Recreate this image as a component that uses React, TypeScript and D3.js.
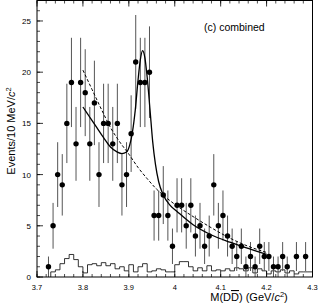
import React from "react";
import * as d3 from "d3";

// Data bin centres (GeV/c^2) and event counts
const binCenters = [
  3.725, 3.735, 3.745, 3.755, 3.765, 3.775, 3.785, 3.795, 3.805, 3.815,
  3.825, 3.835, 3.845, 3.855, 3.865, 3.875, 3.885, 3.895, 3.905, 3.915,
  3.925, 3.935, 3.945, 3.955, 3.965, 3.975, 3.985, 3.995, 4.005, 4.015,
  4.025, 4.035, 4.045, 4.055, 4.065, 4.075, 4.085, 4.095, 4.105, 4.115,
  4.125, 4.135, 4.145, 4.155, 4.165, 4.175, 4.185, 4.195, 4.205, 4.215,
  4.225, 4.235, 4.245, 4.265, 4.285,
];
const counts = [
  1, 5, 10, 9, 15, 19, 13, 19, 18, 13,
  17, 10, 15, 15, 13, 15, 9, 10, 14, 21,
  19, 19, 20, 6, 6, 8, 6, 3, 7, 7,
  5, 7, 4, 5, 3, 4, 9, 5, 6, 4,
  3, 2, 3, 1, 2, 1, 3, 2, 2, 1,
  1, 2, 1, 2, 2,
];

// Background histogram (lower bin edges, 10 MeV bins)
const histEdges = [
  3.73, 3.74, 3.75, 3.76, 3.77, 3.78, 3.79, 3.80, 3.81, 3.82,
  3.83, 3.84, 3.85, 3.86, 3.87, 3.88, 3.89, 3.90, 3.91, 3.92,
  3.93, 3.94, 3.95, 3.96, 3.97, 3.98, 3.99, 4.00, 4.01, 4.02,
  4.03, 4.04, 4.05, 4.06, 4.07, 4.08, 4.09, 4.10, 4.11, 4.12,
  4.13, 4.14, 4.15, 4.16, 4.17, 4.18, 4.19, 4.20, 4.21, 4.22,
  4.23, 4.24, 4.25, 4.26, 4.27, 4.28, 4.29,
];
const histValues = [
  0.5, 0.7, 1.3, 1.8, 2.2, 1.7, 1.0, 0.4, 1.2, 1.3,
  1.1, 1.4, 1.1, 1.3, 0.8, 1.0, 0.6, 1.2, 0.5, 1.0,
  1.3, 0.5, 0.6, 0.8, 0.7, 0.5, 0.5, 1.2, 1.5, 1.5,
  1.0, 0.6, 0.9, 0.6, 1.1, 0.6, 0.7, 0.6, 0.8, 0.6,
  0.9, 0.8, 0.6, 0.9, 0.4, 0.8, 0.6, 0.3, 0.6, 0.5,
  0.7, 0.4, 0.6, 0.3, 0.5, 0.5, 0.5,
];

// Fit with resonance (solid)
const fitMass = [
  3.8, 3.815, 3.83, 3.845, 3.86, 3.875, 3.885, 3.895, 3.902, 3.908,
  3.914, 3.92, 3.925, 3.93, 3.935, 3.94, 3.946, 3.952, 3.958, 3.965,
  3.975, 3.99, 4.005, 4.04, 4.08, 4.12, 4.16, 4.2,
];
const fitValues = [
  16.6, 15.6, 14.6, 13.6, 12.7, 12.2, 12.05, 12.2, 12.9, 14.2,
  16.3, 19.2, 21.2, 22.1, 21.4, 19.5, 16.4, 13.2, 11.0, 9.3,
  8.0, 7.0, 6.4, 5.1, 4.1, 3.4, 2.8, 2.2,
];

// Background-only fit (dashed)
const bkgMass = [3.8, 3.82, 3.84, 3.86, 3.88, 3.9, 3.92, 3.94, 3.96, 3.98, 4.0, 4.04, 4.08, 4.12, 4.16, 4.2];
const bkgValues = [20.2, 18.3, 16.4, 14.6, 13.2, 12.0, 10.7, 9.6, 8.6, 7.8, 7.1, 5.9, 4.8, 3.8, 3.0, 2.4];

const xTickValues = [3.7, 3.8, 3.9, 4.0, 4.1, 4.2, 4.3];
const xTickLabels = ["3.7", "3.8", "3.9", "4", "4.1", "4.2", "4.3"];
const yTickValues = [0, 5, 10, 15, 20, 25];

const W = 324;
const H = 308;
const L = 37;
const R = 312.5;
const T = 0.5;
const B = 277;
const FONT = "'Liberation Sans', Arial, Helvetica, sans-serif";

export default function App() {
  const x = d3.scaleLinear().domain([3.7, 4.3]).range([L, R]);
  const y = d3.scaleLinear().domain([0, 27]).range([B, T]);

  const lineGen = d3
    .line<[number, number]>()
    .x((d) => x(d[0]))
    .y((d) => y(d[1]))
    .curve(d3.curveMonotoneX);

  const fitPath = lineGen(fitMass.map((m, i) => [m, fitValues[i]] as [number, number])) || "";
  const bkgPath = lineGen(bkgMass.map((m, i) => [m, bkgValues[i]] as [number, number])) || "";

  // histogram step path
  let hist = "";
  histEdges.forEach((e, i) => {
    const x0 = x(e);
    const x1 = x(e + 0.01);
    const yy = y(histValues[i]);
    if (i === 0) hist += `M${x0},${y(0)}L${x0},${yy}`;
    else hist += `L${x0},${yy}`;
    hist += `L${x1},${yy}`;
  });

  const xMinor = d3.range(3.7, 4.3001, 0.02);
  const yMinor = d3.range(0, 27.01, 1);

  return (
    <svg
      width={W}
      height={H}
      style={{ position: "absolute", left: 0, top: 0, background: "#fff" }}
      fontFamily={FONT}
    >
      <rect x={0} y={0} width={W} height={H} fill="#fff" />

      {/* histogram */}
      <path d={hist} fill="none" stroke="#000" strokeWidth={0.8} />

      {/* error bars */}
      {binCenters.map((m, i) => {
        const n = counts[i];
        const e = Math.sqrt(n);
        return (
          <line
            key={"e" + i}
            x1={x(m)}
            x2={x(m)}
            y1={y(Math.max(0, n - e))}
            y2={y(n + e)}
            stroke="#555"
            strokeWidth={1}
          />
        );
      })}

      {/* curves */}
      <path d={bkgPath} fill="none" stroke="#000" strokeWidth={1} strokeDasharray="3,2" />
      <path d={fitPath} fill="none" stroke="#000" strokeWidth={1.3} />

      {/* points */}
      {binCenters.map((m, i) => (
        <circle key={"p" + i} cx={x(m)} cy={y(counts[i])} r={2.7} fill="#000" />
      ))}

      {/* frame */}
      <rect x={L} y={T} width={R - L} height={B - T} fill="none" stroke="#000" strokeWidth={1} />

      {/* x ticks */}
      {xMinor.map((v, i) => (
        <g key={"xm" + i}>
          <line x1={x(v)} x2={x(v)} y1={B} y2={B - 3} stroke="#000" strokeWidth={0.7} />
          <line x1={x(v)} x2={x(v)} y1={T} y2={T + 3} stroke="#000" strokeWidth={0.7} />
        </g>
      ))}
      {xTickValues.map((v, i) => (
        <g key={"xt" + i}>
          <line x1={x(v)} x2={x(v)} y1={B} y2={B - 6} stroke="#000" strokeWidth={0.8} />
          <line x1={x(v)} x2={x(v)} y1={T} y2={T + 6} stroke="#000" strokeWidth={0.8} />
          <text x={x(v)} y={290} fontSize={7.5} textAnchor="middle" fill="#000">
            {xTickLabels[i]}
          </text>
        </g>
      ))}

      {/* y ticks */}
      {yMinor.map((v, i) => (
        <line key={"ym" + i} x1={L} x2={L + 3} y1={y(v)} y2={y(v)} stroke="#000" strokeWidth={0.7} />
      ))}
      {yTickValues.map((v, i) => (
        <g key={"yt" + i}>
          <line x1={L} x2={L + 6} y1={y(v)} y2={y(v)} stroke="#000" strokeWidth={0.8} />
          <text x={31} y={y(v) + 3} fontSize={8} textAnchor="end" fill="#000">
            {v}
          </text>
        </g>
      ))}

      {/* labels */}
      <text x={204} y={31} fontSize={10.5} fill="#000">
        (c) combined
      </text>
      <text x={249} y={301} fontSize={11} textAnchor="middle" fill="#000">
        M(D<tspan style={{ textDecoration: "overline" }}>D</tspan>) (GeV/<tspan fontStyle="italic">c</tspan>
        <tspan fontSize={7.5} dy={-4}>2</tspan>
        <tspan dy={4}>)</tspan>
      </text>
      <text
        transform="translate(15,131) rotate(-90)"
        fontSize={11}
        textAnchor="middle"
        fill="#000"
      >
        Events/10 MeV/<tspan fontStyle="italic">c</tspan>
        <tspan fontSize={7.5} dy={-4}>2</tspan>
      </text>
    </svg>
  );
}
